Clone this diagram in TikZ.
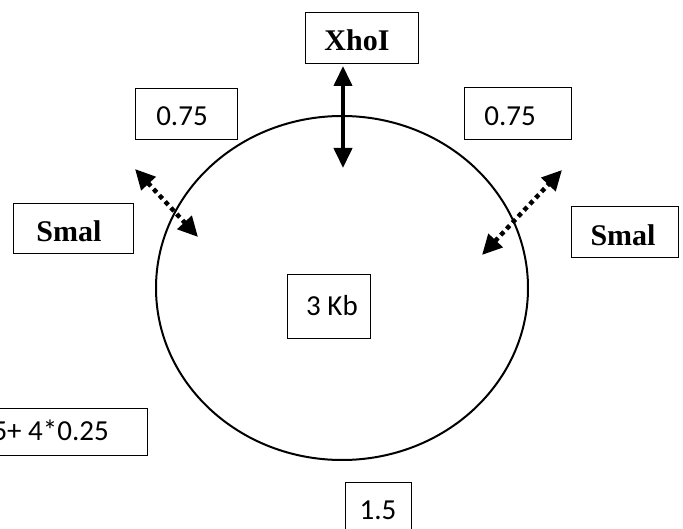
\documentclass[tikz,border=0pt]{standalone}
\usepackage{fontspec}
\setmainfont{Liberation Serif}
\newfontfamily\calib{Carlito}
\usetikzlibrary{shapes.geometric,arrows.meta}
\tikzset{
  box/.style={draw, line width=0.8pt, inner sep=0pt, fill=white},
  sanst/.style={font=\calib\fontsize{29}{33}\selectfont},
  serift/.style={font=\bfseries\fontsize{30}{34}\selectfont},
  thickarr/.style={line width=4pt, {Triangle[length=20pt,width=18pt]}-{Triangle[length=20pt,width=18pt]}},
  dotarr/.style={line width=4.5pt, dash pattern=on 4.5pt off 4pt, {Triangle[length=20pt,width=19pt]}-{Triangle[length=20pt,width=19pt]}}
}
\begin{document}
\begin{tikzpicture}[x=1pt,y=-1pt]
\useasboundingbox (0,0) rectangle (683,529);
% circle
\node[draw, ellipse, line width=2pt, minimum width=372pt, minimum height=344pt, inner sep=0pt] (ring) at (342,288) {};
% boxes
\node[box, serift, minimum width=113pt, minimum height=51pt] (xhoi) at (362,37.5) {};
\node[serift, inner sep=0pt] (xhoit) at (357,40) {XhoI};
\node[box, sanst, minimum width=102pt, minimum height=51pt] (l075) at (186,113.5) {};
\node[sanst, inner sep=0pt] (l075t) at (182,116) {0.75};
\node[box, sanst, minimum width=107pt, minimum height=52pt] (r075) at (517.5,113) {};
\node[sanst, inner sep=0pt] (r075t) at (510,116) {0.75};
\node[box, serift, minimum width=120pt, minimum height=50pt] (lsmal) at (73,228) {};
\node[serift, inner sep=0pt] (lsmalt) at (69,231) {Smal};
\node[box, serift, minimum width=107pt, minimum height=51pt] (rsmal) at (624.5,231.5) {};
\node[serift, inner sep=0pt] (rsmalt) at (623,235) {Smal};
\node[box, sanst, minimum width=83pt, minimum height=64pt] (kb) at (328.5,306) {};
\node[sanst, inner sep=0pt] (kbt) at (332,306) {3 Kb};
\node[box, minimum width=190pt, minimum height=47pt] (blbox) at (52,431.5) {};
\node[sanst, anchor=east, inner sep=0pt] (bltext) at (109,430) {5+ 4*0.25};
\node[box, minimum width=66pt, minimum height=64pt] (bbox) at (378,514) {};
\node[sanst, inner sep=0pt] (btext) at (378,510) {1.5};
% arrows
\coordinate (xa) at (343,168);
\coordinate (xb) at (343,66);
\draw[thickarr] (xb) -- (xa);
\coordinate (la) at (135,169);
\coordinate (lb) at (198,237);
\draw[dotarr] (la) -- (lb);
\coordinate (ra) at (482,255);
\coordinate (rb) at (562,170);
\draw[dotarr] (ra) -- (rb);
\end{tikzpicture}
\end{document}
